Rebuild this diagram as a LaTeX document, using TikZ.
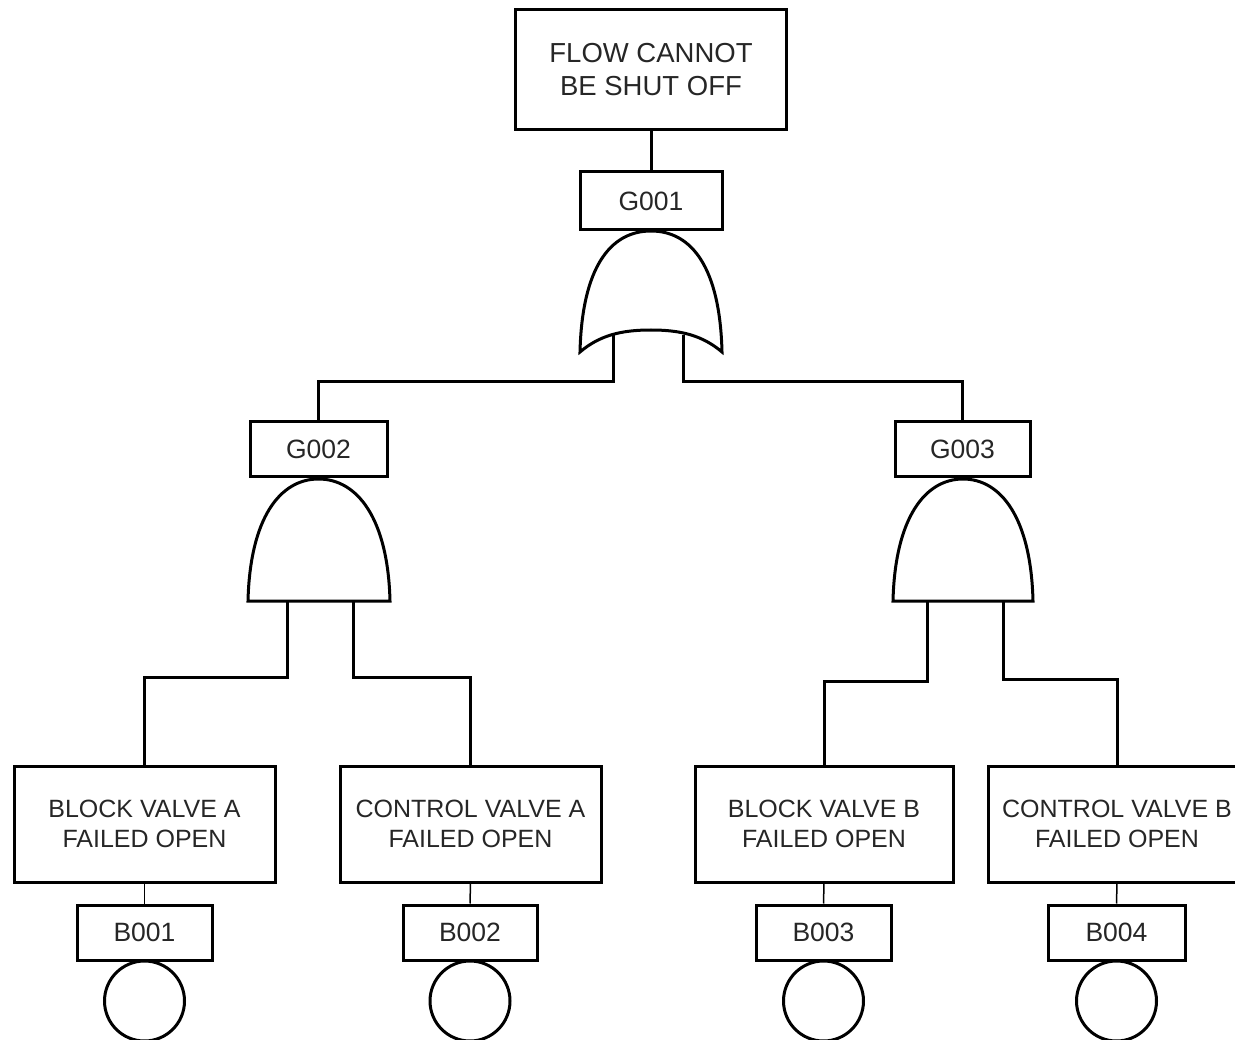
\documentclass[tikz,border=0pt]{standalone}
\usepackage{fontspec}
\setmainfont{Liberation Sans}
\begin{document}
\begin{tikzpicture}[x=1pt,y=-1pt,
  line join=miter,
  every node/.style={text=black!85},
  eventbox/.style={draw,line width=3pt,rectangle,minimum width=271pt,minimum height=120pt,
    align=center,font=\fontsize{27.5}{33}\selectfont,inner sep=0pt},
  basicbox/.style={draw,line width=3pt,rectangle,minimum width=261pt,minimum height=116pt,
    align=center,font=\fontsize{25}{30}\selectfont,inner sep=0pt},
  tagbox/.style={draw,line width=3pt,rectangle,minimum width=136pt,minimum height=56pt,
    font=\fontsize{26.5}{30}\selectfont,inner sep=0pt},
  basiccircle/.style={draw,line width=3pt,circle,minimum size=80pt,inner sep=0pt},
  gate/.style={draw,line width=3pt,fill=white},
  wire/.style={line width=3pt},
  thinwire/.style={line width=1.5pt}]
\useasboundingbox (0,0) rectangle (1235,1040);
\clip (0,0) rectangle (1235,1040);

% top event and its gate
\node[eventbox] (top) at (651,70) {FLOW CANNOT\\BE SHUT OFF};
\node[tagbox,minimum width=142pt,minimum height=58pt] (g1) at (651,201) {G001};
\draw[wire] (top.south) -- (g1.north);

% OR gate G001
\draw[gate] (580,352) .. controls (582,268) and (610,231) .. (651,231)
  .. controls (692,231) and (720,268) .. (722,352)
  .. controls (702,335) and (680,330) .. (651,330)
  .. controls (622,330) and (600,335) .. (580,352) -- cycle;
\coordinate (g1inL) at (613,335);
\coordinate (g1inR) at (683,335);

% intermediate gates
\node[tagbox,minimum width=137pt,minimum height=55pt] (g2) at (318.5,449.5) {G002};
\node[tagbox,minimum width=135pt,minimum height=55pt] (g3) at (962.5,449.5) {G003};
\draw[wire] (g1inL) -- ++(0,47) -| (g2.north);
\draw[wire] (g1inR) -- ++(0,47) -| (g3.north);

% AND gate G002
\draw[gate] (248,601) .. controls (250,518) and (280,479) .. (318.5,479)
  .. controls (357,479) and (388,518) .. (390,601) -- cycle;
\coordinate (g2inL) at (287,601);
\coordinate (g2inR) at (353,601);

% AND gate G003
\draw[gate] (893,601) .. controls (895,518) and (925,479) .. (963,479)
  .. controls (1001,479) and (1031,518) .. (1033,601) -- cycle;
\coordinate (g3inL) at (927,601);
\coordinate (g3inR) at (1003,601);

% basic events
\node[basicbox] (e1) at (144.5,824) {BLOCK VALVE A\\FAILED OPEN};
\node[basicbox] (e2) at (470.5,824) {CONTROL VALVE A\\FAILED OPEN};
\node[basicbox,minimum width=258pt] (e3) at (824,824) {BLOCK VALVE B\\FAILED OPEN};
\node[basicbox,minimum width=258pt] (e4) at (1117,824) {CONTROL VALVE B\\FAILED OPEN};

\draw[wire] (g2inL) -- ++(0,76) -| (e1.north);
\draw[wire] (g2inR) -- ++(0,76) -| (e2.north);
\draw[wire] (g3inL) -- ++(0,80) -| (e3.north);
\draw[wire] (g3inR) -- ++(0,78) -| (e4.north);

% basic event tags and circles
\node[tagbox,minimum width=135pt,minimum height=55pt] (b1) at (144.5,932.5) {B001};
\node[tagbox,minimum width=134pt,minimum height=55pt] (b2) at (470,932.5) {B002};
\node[tagbox,minimum width=135pt,minimum height=55pt] (b3) at (823.5,932.5) {B003};
\node[tagbox,minimum width=137pt,minimum height=55pt] (b4) at (1116.5,932.5) {B004};

\foreach \i in {1,2,3,4}{\draw[thinwire] (e\i.south) -- (b\i.north);}

\node[basiccircle] (c1) at (144.5,1001) {};
\node[basiccircle] (c2) at (470,1001) {};
\node[basiccircle] (c3) at (823.5,1001) {};
\node[basiccircle] (c4) at (1116.5,1001) {};
\end{tikzpicture}
\end{document}
